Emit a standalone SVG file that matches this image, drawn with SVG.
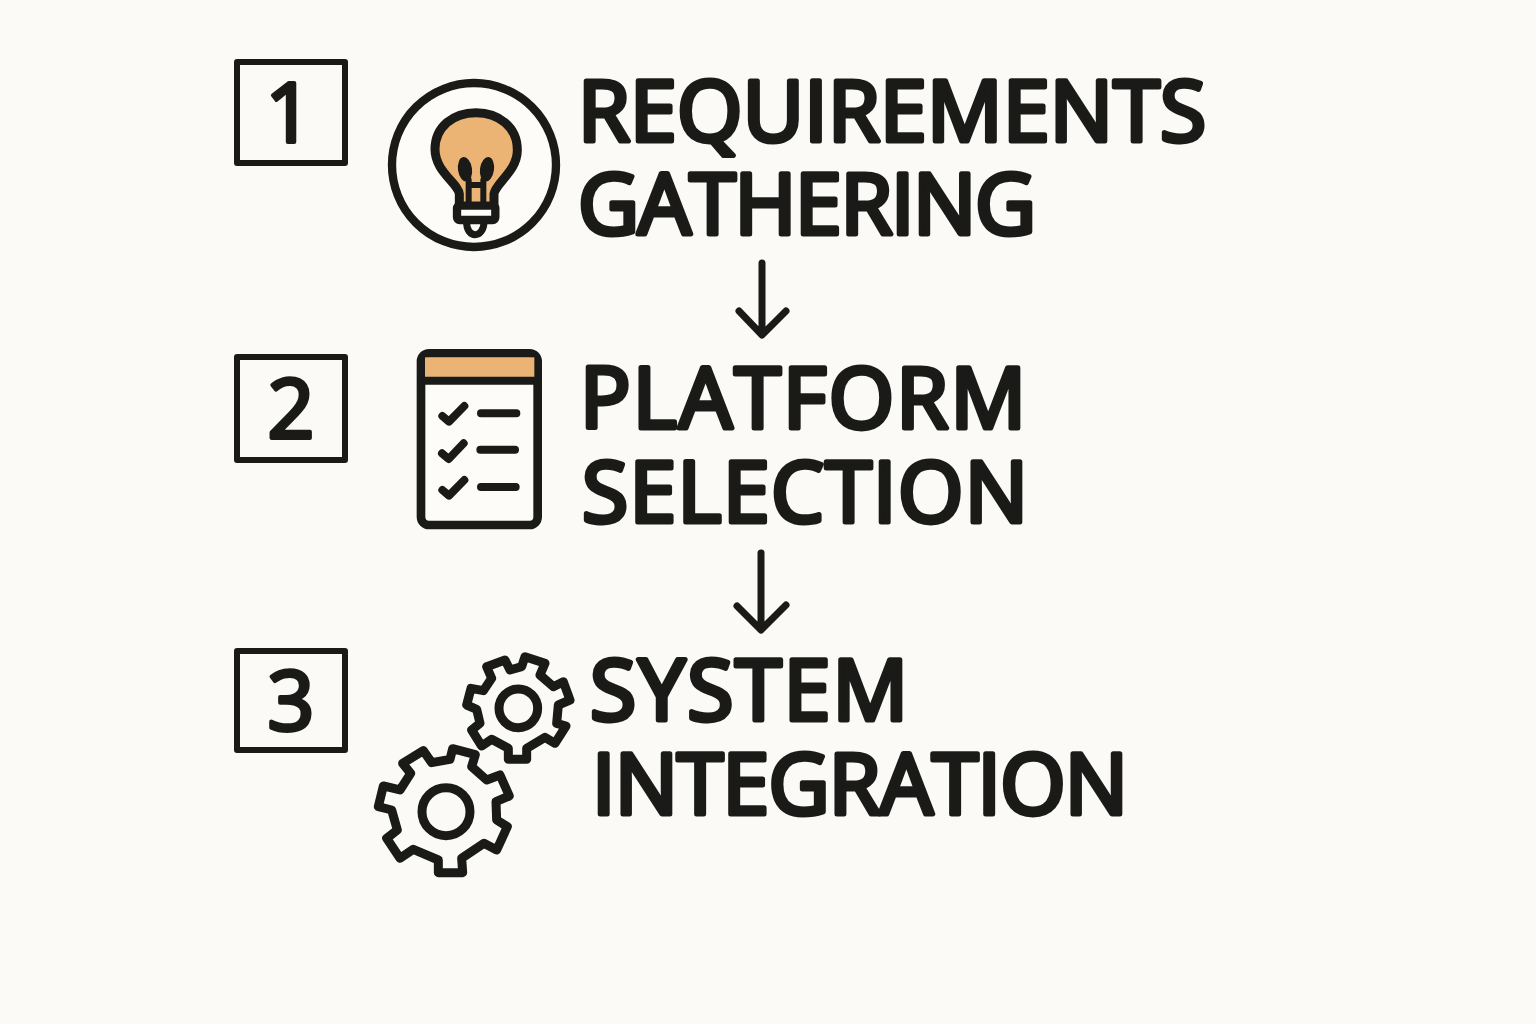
<svg xmlns="http://www.w3.org/2000/svg" width="1536" height="1024" viewBox="0 0 1536 1024">
<style>
.title{font-family:"Open Sans","Liberation Sans",sans-serif;font-size:84px;font-weight:400;font-kerning:none;fill:#1a1a18;stroke:#1a1a18;stroke-width:5px;stroke-linejoin:round}
.num{font-family:"Open Sans","Liberation Sans",sans-serif;font-size:82px;font-weight:400;fill:#1a1a18;stroke:#1a1a18;stroke-width:4px;stroke-linejoin:round;text-anchor:middle}
.box{fill:none;stroke:#1a1a18;stroke-width:6;stroke-linejoin:round}
.ln{stroke:#1a1a18;stroke-linecap:round;stroke-linejoin:round}
.open{fill:none}
.paper{fill:#fdfcf9}
.amber{fill:#ebb474}
.arrow{fill:none;stroke:#1a1a18;stroke-width:7;stroke-linecap:round;stroke-linejoin:round}
</style>
<rect width="1536" height="1024" fill="#fbfaf6"/>
<g id="connectors">
<path class="arrow" d="M762 263V334M739 311L762 335L786 311"/>
<path class="arrow" d="M761 553V629M737 606L761 630L786 605"/>
</g>
<g id="node-1">
<rect class="box" x="237" y="62" width="108" height="101"/>
<text class="num" x="289" y="142">1</text>
<g transform="translate(380 70) scale(.33333)">
<circle class="ln paper" cx="282" cy="285" r="246" stroke-width="25"/>
<path class="ln amber" stroke-width="27" d="M238 410V372C235 340 165 305 165 238C165 170 220 128 288 128C355 128 412 170 412 240C412 305 345 340 342 372V410Z"/>
<path class="ln open" stroke-width="18" d="M266 330V400M310 330V400M266 345H310"/>
<ellipse cx="255" cy="298" rx="21" ry="37" fill="#1a1a18" transform="rotate(-8 255 298)"/>
<ellipse cx="321" cy="298" rx="21" ry="37" fill="#1a1a18" transform="rotate(8 321 298)"/>
<path class="ln paper" stroke-width="21" d="M260 455C258 507 312 507 312 455"/>
<rect class="ln paper" x="231" y="407" width="115" height="43" rx="8" stroke-width="25"/>
</g>
<text class="title" x="578" y="141" textLength="628" lengthAdjust="spacing">REQUIREMENTS</text>
<text class="title" x="578" y="234" textLength="458" lengthAdjust="spacing">GATHERING</text>
</g>
<g id="node-2">
<rect class="box" x="237" y="357" width="108" height="103"/>
<text class="num" x="291" y="438">2</text>
<g transform="translate(405 340) scale(.33333)">
<rect class="ln paper" x="48" y="40" width="350" height="515" rx="24" stroke-width="26"/>
<rect class="amber" x="60" y="52" width="328" height="60"/>
<path class="ln open" stroke-width="24" d="M48 122H398"/>
<path class="ln open" stroke-width="24" d="M112 228L132 245L178 198M111 340L131 357L176 310M112 450L132 467L178 420M228 220H334M226 329H330M228 441H332"/>
</g>
<text class="title" x="580" y="428" textLength="446" lengthAdjust="spacing">PLATFORM</text>
<text class="title" x="582" y="522" textLength="446" lengthAdjust="spacing">SELECTION</text>
</g>
<g id="node-3">
<rect class="box" x="237" y="651" width="108" height="99"/>
<text class="num" x="291" y="730">3</text>
<g transform="translate(370 650) scale(.33333)">
<path class="ln open" stroke-width="27" d="M248 296L316 314L305 350L350 390L390 375L418 438L378 455L380 510L412 530L380 600L342 580L275 625L278 668L205 668L205 630L130 598L90 625L50 565L82 540L65 480L25 470L40 408L90 420L122 370L98 340L160 302L185 338L240 328Z"/>
<circle class="ln open" cx="228" cy="485" r="72" stroke-width="27"/>
<path class="ln open" stroke-width="27" d="M465 20L525 40L510 75L550 110L580 95L600 150L565 165L560 220L588 228L555 280L525 262L470 295L470 328L415 328L415 295L365 268L335 288L305 240L330 220L320 178L290 165L303 115L340 122L365 85L350 50L405 30L420 60L455 50Z"/>
<circle class="ln open" cx="445" cy="175" r="58" stroke-width="27"/>
</g>
<text class="title" x="590" y="720" textLength="318" lengthAdjust="spacing">SYSTEM</text>
<text class="title" x="592" y="814" textLength="536" lengthAdjust="spacing">INTEGRATION</text>
</g>
</svg>
